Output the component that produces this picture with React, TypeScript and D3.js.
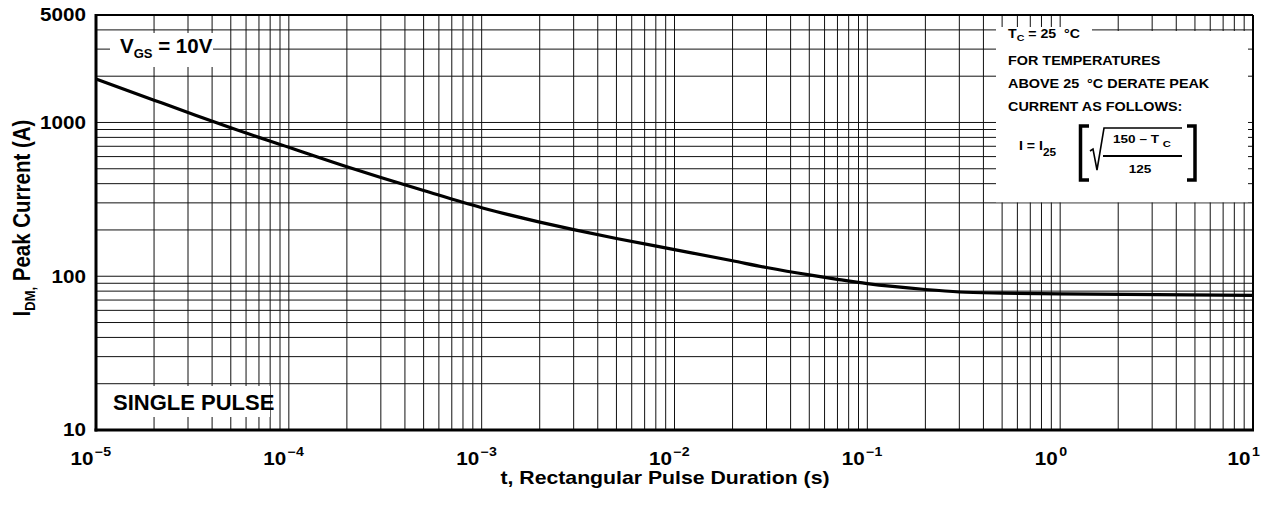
import React from 'react';
import * as d3 from 'd3';

// Peak current vs. rectangular pulse duration (single pulse, VGS = 10 V)
const pulseT = [1e-5, 2e-5, 3e-5, 5e-5, 1e-4, 2e-4, 3e-4, 5e-4, 1e-3, 2e-3, 3e-3, 5e-3, 1e-2, 2e-2, 3e-2, 5e-2, 7e-2, 1e-1, 2e-1, 3e-1, 5e-1, 1, 10];
const peakI = [1920, 1397, 1161, 923, 690, 516, 439, 361, 279, 225, 201, 176, 149, 126, 114, 102, 95.5, 89.5, 82, 79, 77.6, 76.8, 75];

const xDecades = [-5, -4, -3, -2, -1, 0, 1];
const xExpLabels = ['\u22125', '\u22124', '\u22123', '\u22122', '\u22121', '0', '1'];
const yTicks = [10, 100, 1000, 5000];
const yTickLabels = ['10', '100', '1000', '5000'];

const W = 1267;
const H = 505;
const margin = { top: 15, right: 14, bottom: 75, left: 96 };
const FONT = "'Liberation Sans', Arial, Helvetica, sans-serif";
const SX = 1.18; // horizontal stretch of the lettering

function Txt({ x, y, size, anchor = 'start', sx = SX, children }: any) {
  return (
    <g transform={`translate(${x},${y}) scale(${sx},1)`}>
      <text
        fontSize={size}
        textAnchor={anchor}
        fontWeight="bold"
        fontFamily={FONT}
        fill="#000"
        style={{ whiteSpace: 'pre' }}
      >
        {children}
      </text>
    </g>
  );
}

export default function App() {
  const x0 = margin.left;
  const x1 = W - margin.right;
  const y0 = H - margin.bottom;
  const y1 = margin.top;

  const x = d3.scaleLog().domain([1e-5, 10]).range([x0, x1]);
  const y = d3.scaleLog().domain([10, 5000]).range([y0, y1]);

  // grid values
  const vGrid: number[] = [];
  for (let k = -5; k <= 0; k++) for (let m = 1; m <= 9; m++) vGrid.push(m * Math.pow(10, k));
  const hGrid: number[] = [];
  for (let k = 1; k <= 3; k++) for (let m = 1; m <= 9; m++) if (m * Math.pow(10, k) < 5000) hGrid.push(m * Math.pow(10, k));

  const line = d3
    .line<number>()
    .x((_, i) => x(pulseT[i]))
    .y((d) => y(d))
    .curve(d3.curveMonotoneX);

  // annotation box
  const boxX = 996;
  const boxR = 1248;
  const boxTop = 31;
  const boxBottom = y(300) - 0.6;

  return (
    <svg width={W} height={H} style={{ position: 'absolute', left: 0, top: 0, background: '#fff' }}>
      <rect width={W} height={H} fill="#fff" />

      {/* Grid */}
      <g stroke="#111" strokeWidth={1}>
        {vGrid.map((v) => (
          <line key={'v' + v} x1={x(v)} x2={x(v)} y1={y1} y2={y0} />
        ))}
        {hGrid.map((v) => (
          <line key={'h' + v} x1={x0} x2={x1} y1={y(v)} y2={y(v)} />
        ))}
      </g>

      {/* Label backgrounds */}
      <rect x={110} y={33} width={103} height={34} fill="#fff" />
      <rect x={105} y={386} width={165} height={31} fill="#fff" />
      <rect x={boxX} y={27} width={96} height={10} fill="#fff" />
      <rect x={boxX} y={boxTop} width={boxR - boxX} height={boxBottom - boxTop} fill="#fff" />

      {/* Curve */}
      <path d={line(peakI) ?? ''} fill="none" stroke="#000" strokeWidth={3.2} strokeLinejoin="round" />

      {/* Frame */}
      <g stroke="#000">
        <line x1={x0} x2={x1} y1={y1} y2={y1} strokeWidth={2} />
        <line x1={x1} x2={x1} y1={y1} y2={y0} strokeWidth={2} />
        <line x1={x0} x2={x0} y1={y1 - 1} y2={y0 + 1.5} strokeWidth={3} />
        <line x1={x0 - 1.5} x2={x1 + 1} y1={y0} y2={y0} strokeWidth={3} />
      </g>

      {/* Y tick labels */}
      {yTicks.map((v, i) => (
        <Txt key={'yt' + v} x={x0 - 10} y={y(v) + 6.3} size={17.5} anchor="end">
          {yTickLabels[i]}
        </Txt>
      ))}

      {/* X tick labels */}
      {xDecades.map((k, i) => {
        const px = x(Math.pow(10, k));
        return (
          <g key={'xt' + k}>
            <Txt x={px - 2.5} y={465} size={17.5} anchor="end">10</Txt>
            <Txt x={px - 1} y={456} size={12}>{xExpLabels[i]}</Txt>
          </g>
        );
      })}

      {/* Axis titles */}
      <Txt x={665} y={484} size={18} anchor="middle">t, Rectangular Pulse Duration (s)</Txt>
      <g transform={`translate(30,218) rotate(-90) scale(1,${SX})`}>
        <text fontSize={20.5} textAnchor="middle" fontWeight="bold" fontFamily={FONT}>
          I<tspan fontSize={13} dy={4}>DM,</tspan>
          <tspan dy={-4}> Peak Current (A)</tspan>
        </text>
      </g>

      {/* In-plot labels */}
      <text x={120} y={53} fontSize={20.5} fontWeight="bold" fontFamily={FONT}>
        V<tspan fontSize={13} dy={5}>GS</tspan>
        <tspan dy={-5}> = 10V</tspan>
      </text>
      <text x={113} y={410} fontSize={22} fontWeight="bold" fontFamily={FONT}>
        SINGLE PULSE
      </text>

      {/* Derating note */}
      <Txt x={1008} y={38} size={12}>
        T<tspan fontSize={9} dy={3}>C</tspan>
        <tspan dy={-3}> = 25  °C</tspan>
      </Txt>
      <Txt x={1008} y={65} size={12.2}>FOR TEMPERATURES</Txt>
      <Txt x={1008} y={88} size={12.2}>ABOVE 25  °C DERATE PEAK</Txt>
      <Txt x={1008} y={111} size={12.2}>CURRENT AS FOLLOWS:</Txt>
      <Txt x={1019} y={150} size={12}>
        I = I<tspan fontSize={10} dy={6}>25</tspan>
      </Txt>
      <g fill="none" stroke="#000">
        <path d="M1089,126 H1080.5 V180 H1089" strokeWidth={3.5} />
        <path d="M1187,126 H1195 V180 H1187" strokeWidth={3.5} />
        <path d="M1090,151 L1093,149 L1097,170 L1104,128 H1182" strokeWidth={1.6} />
        <line x1={1103} x2={1182} y1={156} y2={156} strokeWidth={2} />
      </g>
      <Txt x={1113} y={143} size={11.5}>
        150 – T <tspan fontSize={9.5} dy={4}>C</tspan>
      </Txt>
      <Txt x={1140} y={173} size={11.5} anchor="middle">125</Txt>
    </svg>
  );
}
